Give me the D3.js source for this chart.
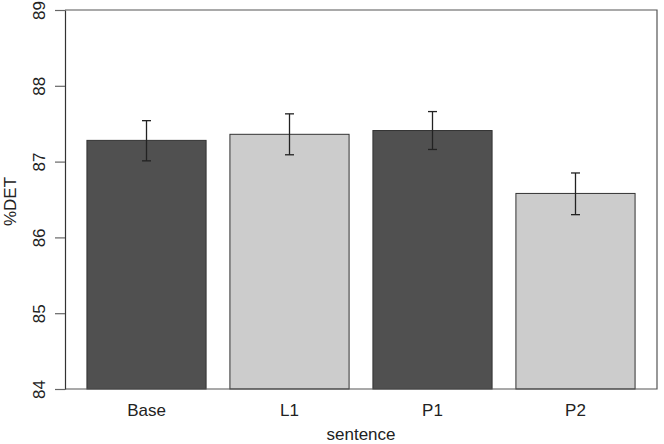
<!DOCTYPE html>
<html><head><meta charset="utf-8">
<script src="https://cdn.jsdelivr.net/npm/d3@7"></script>
<style>body{margin:0;background:#fff}svg{display:block;font-family:"Liberation Sans",Arial,sans-serif}</style>
</head><body><svg id="c" width="664" height="444"></svg>
<script>
const categories = ["Base", "L1", "P1", "P2"];
const means = [87.28, 87.36, 87.41, 86.58];
const errLow = [87.01, 87.09, 87.16, 86.30];
const errHigh = [87.54, 87.63, 87.66, 86.85];
const fills = ["#505050", "#cccccc", "#505050", "#cccccc"];
const yTicks = [84, 85, 86, 87, 88, 89];

const svg = d3.select("#c");
const L = 65, R = 657, T = 10, B = 389;
const FS = 17;
const y = d3.scaleLinear().domain([84, 89]).range([B, T]);
// R barplot layout: width 1, space 0.2, xlim extended 4%
const lefts = categories.map((d, i) => 0.2 + i * 1.2);
const xmin = 0.2, xmax = 0.2 + 3 * 1.2 + 1;
const ext = (xmax - xmin) * 0.04;
const x = d3.scaleLinear().domain([xmin - ext, xmax + ext]).range([L, R]);

const data = categories.map((c, i) => ({c, m: means[i], lo: errLow[i], hi: errHigh[i], f: fills[i], l: lefts[i]}));

svg.selectAll("rect.bar").data(data).enter().append("rect")
  .attr("x", d => x(d.l)).attr("width", d => x(d.l + 1) - x(d.l))
  .attr("y", d => y(d.m)).attr("height", d => y(84) - y(d.m))
  .attr("fill", d => d.f).attr("stroke", "#333").attr("stroke-width", 1);

// box
svg.append("path").attr("d", `M${L},${B}H${R}V${T}H${L}`).attr("fill", "none").attr("stroke", "#555").attr("stroke-width", 1.2);

// error bars
const eb = svg.selectAll("g.eb").data(data).enter().append("g").attr("stroke", "#222").attr("stroke-width", 1.3);
eb.append("line").attr("x1", d => x(d.l + 0.5)).attr("x2", d => x(d.l + 0.5)).attr("y1", d => y(d.lo)).attr("y2", d => y(d.hi));
eb.append("line").attr("x1", d => x(d.l + 0.5) - 4.5).attr("x2", d => x(d.l + 0.5) + 4.5).attr("y1", d => y(d.lo)).attr("y2", d => y(d.lo));
eb.append("line").attr("x1", d => x(d.l + 0.5) - 4.5).attr("x2", d => x(d.l + 0.5) + 4.5).attr("y1", d => y(d.hi)).attr("y2", d => y(d.hi));

// y axis
const ya = svg.append("g").attr("transform", `translate(${L},0)`)
  .call(d3.axisLeft(y).tickValues(yTicks).tickFormat(d3.format("d")).tickSize(10).tickSizeOuter(0));
ya.select(".domain").attr("stroke", "#333").attr("stroke-width", 1.2);
ya.selectAll(".tick line").attr("stroke", "#666").attr("stroke-width", 1.2);
ya.selectAll(".tick text").attr("transform", "rotate(-90)").attr("x", 0).attr("y", -20)
  .attr("dy", 0).attr("text-anchor", "middle").attr("font-size", FS).attr("fill", "#222").style("font-family", "Liberation Sans, Arial, sans-serif");

// category labels
svg.selectAll("text.cat").data(data).enter().append("text")
  .attr("x", d => x(d.l + 0.5)).attr("y", 416).attr("text-anchor", "middle")
  .attr("font-size", FS).attr("fill", "#222").text(d => d.c);

svg.append("text").attr("x", (L + R) / 2).attr("y", 440).attr("text-anchor", "middle")
  .attr("font-size", FS).attr("fill", "#222").text("sentence");
svg.append("text").attr("transform", `translate(16,${(T + B) / 2 + 2}) rotate(-90)`).attr("text-anchor", "middle")
  .attr("font-size", FS).attr("fill", "#222").text("%DET");
</script></body></html>
